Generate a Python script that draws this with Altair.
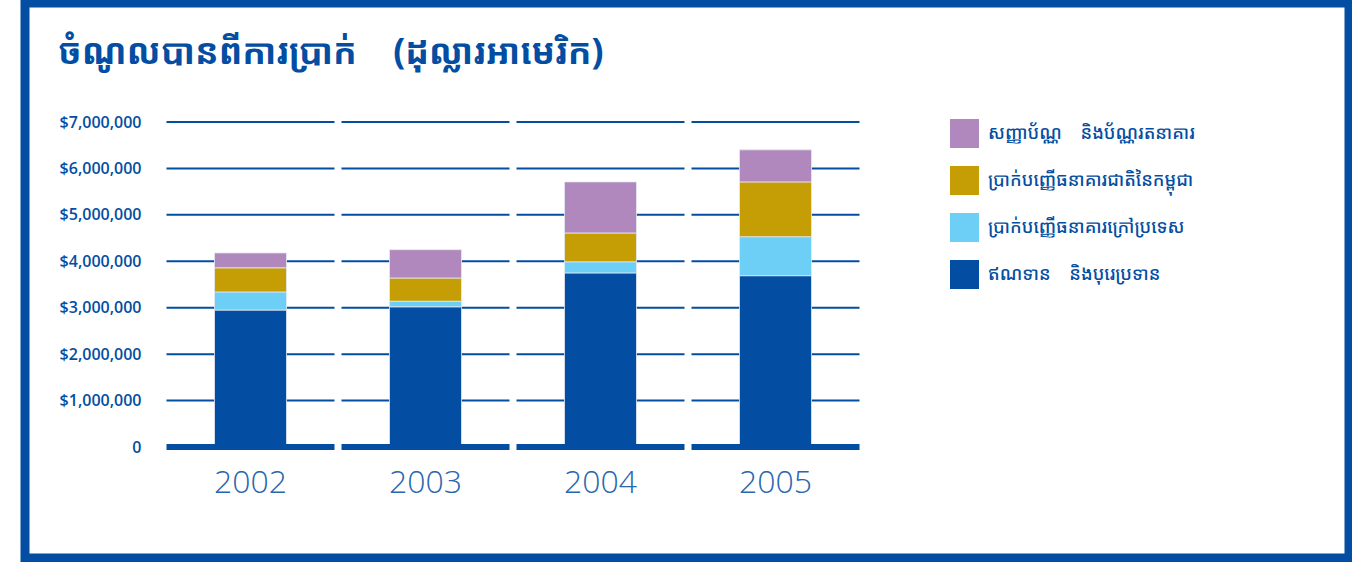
import altair as alt
import pandas as pd

NB = "\u00a0"
years = ["2002", "2003", "2004", "2005"]
series = [
    "ឥណទាន" + NB * 4 + "និងបុរេប្រទាន",
    "ប្រាក់បញ្ញើធនាគារក្រៅប្រទេស",
    "ប្រាក់បញ្ញើធនាគារជាតិនៃកម្ពុជា",
    "សញ្ញាប័ណ្ណ" + NB * 4 + "និងប័ណ្ណរតនាគារ",
]
loans = [2950000, 3020000, 3750000, 3690000]
foreign_deposits = [390000, 120000, 240000, 840000]
nbc_deposits = [520000, 500000, 620000, 1180000]
securities = [320000, 610000, 1100000, 690000]
tick_values = [1000000, 2000000, 3000000, 4000000, 5000000, 6000000, 7000000]
title_text = "ចំណូលបានពីការប្រាក់" + NB * 4 + "(ដុល្លារអាមេរិក)"

colors = ["#034ea2", "#6dcff6", "#c59e05", "#b088bd"]

rows = []
for si, vals in enumerate([loans, foreign_deposits, nbc_deposits, securities]):
    for y, v in zip(years, vals):
        rows.append({"year": y, "series": series[si], "value": v, "order": si})
df = pd.DataFrame(rows)

grid_df = pd.DataFrame([{"year": y, "tick": t} for y in years for t in tick_values])
base_df = pd.DataFrame([{"year": y, "tick": 0} for y in years])

BLUE = "#034ea2"
KHMER = "Noto Sans Khmer, Khmer OS, Noto Sans, sans-serif"

xenc = alt.X(
    "year:N",
    scale=alt.Scale(domain=years, paddingInner=0, paddingOuter=0),
    axis=alt.Axis(
        title=None, domain=False, ticks=False, labelAngle=0,
        labelFont="Open Sans", labelFontSize=32, labelFontWeight=300,
        labelColor="#2a66b0", labelPadding=20,
    ),
)
yscale = alt.Scale(domain=[0, 7000000], nice=False)

grid = alt.Chart(grid_df).mark_tick(
    orient="horizontal", color=BLUE, thickness=2, size=168, opacity=1
).encode(
    x=xenc,
    y=alt.Y(
        "tick:Q", scale=yscale,
        axis=alt.Axis(
            title=None, domain=False, ticks=False, grid=False,
            values=[0] + tick_values,
            labelExpr="datum.value == 0 ? '0' : '$' + format(datum.value, ',')",
            labelFont="Open Sans", labelFontSize=16, labelFontWeight=600,
            labelColor=BLUE, labelPadding=22,
        ),
    ),
)

bars = alt.Chart(df).mark_bar(size=72, stroke="#e4e8f4", strokeWidth=0.8).encode(
    x=alt.X("year:N"),
    y=alt.Y("value:Q", stack="zero", scale=yscale),
    color=alt.Color(
        "series:N",
        scale=alt.Scale(domain=series[::-1], range=colors[::-1]),
        legend=alt.Legend(
            title=None, orient="none", legendX=787, legendY=-3,
            symbolType="square", symbolSize=841, symbolStrokeWidth=0,
            labelFont=KHMER, labelFontSize=18, labelFontWeight=500, labelColor=BLUE,
            labelOffset=9, rowPadding=18, labelLimit=400,
        ),
    ),
    order=alt.Order("order:Q", sort="ascending"),
)

baseline = alt.Chart(base_df).mark_tick(
    orient="horizontal", color=BLUE, thickness=6, size=168, opacity=1
).encode(x=alt.X("year:N"), y=alt.Y("tick:Q", scale=yscale))

frame = alt.Chart(pd.DataFrame({"a": [0]})).mark_rect(
    fill=None, stroke=BLUE, strokeWidth=9
).encode(
    x=alt.value(-138), x2=alt.value(1186), y=alt.value(-119), y2=alt.value(436)
)

chart = alt.layer(grid, bars, baseline, frame).properties(
    width=700, height=325,
    padding={"left": 163, "top": 122, "right": 489, "bottom": 115},
    autosize=alt.AutoSizeParams(type="none"),
    title=alt.TitleParams(
        title_text, anchor="start", frame="group", dx=-105, dy=76,
        font=KHMER, fontSize=35, fontWeight="bold", color=BLUE,
    ),
    background="white",
).configure_view(stroke=None)

chart.save("out.html", embed_options={"renderer": "svg", "actions": False})
